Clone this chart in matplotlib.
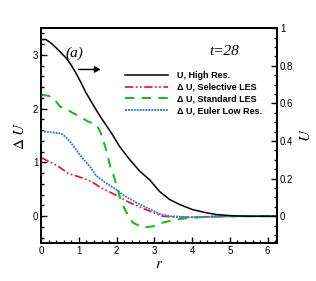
import matplotlib
matplotlib.use("Agg")
import matplotlib.pyplot as plt
from matplotlib.ticker import MultipleLocator, FuncFormatter
from matplotlib.lines import Line2D

plt.rcParams['font.family'] = 'Liberation Sans'
plt.rcParams['mathtext.fontset'] = 'stix'

# U, high resolution (right axis)
r_hi = [0, 0.13, 0.26, 0.40, 0.53, 0.66, 0.79, 0.92, 1.06, 1.19, 1.32, 1.45, 1.58,
        1.77, 1.90, 2.08, 2.35, 2.61, 2.88, 3.14, 3.40, 3.67, 4.01, 4.38, 4.64,
        5.07, 5.5, 6.25]
u_hi = [0.939, 0.939, 0.921, 0.895, 0.868, 0.842, 0.806, 0.762, 0.709, 0.656,
        0.612, 0.568, 0.526, 0.470, 0.430, 0.370, 0.300, 0.240, 0.192, 0.131,
        0.089, 0.062, 0.035, 0.018, 0.009, 0.002, 0.0, 0.0]

# delta U, selective LES
r_sel = [0, 0.18, 0.45, 0.71, 0.79, 1.06, 1.32, 1.58, 1.85, 2.03, 2.27, 2.61,
         2.96, 3.22, 3.59, 3.93, 4.5, 5.0, 6.25]
du_sel = [1.09, 1.03, 0.93, 0.80, 0.78, 0.72, 0.65, 0.53, 0.44, 0.37, 0.28,
          0.17, 0.07, 0.0, -0.02, -0.02, -0.01, 0.0, 0.0]

# delta U, standard LES
r_std = [0, 0.2, 0.35, 0.5, 0.77, 1.03, 1.25, 1.47, 1.58, 1.72, 1.85, 1.9, 2.01,
         2.08, 2.22, 2.43, 2.69, 2.96, 3.22, 3.59, 3.93, 4.46, 5.0, 6.25]
du_std = [2.26, 2.24, 2.18, 2.04, 1.95, 1.85, 1.76, 1.70, 1.55, 1.24, 0.87, 0.80,
          0.55, 0.37, 0.12, -0.12, -0.21, -0.19, -0.12, -0.06, -0.03, -0.01,
          0.0, 0.0]

# delta U, Euler low resolution
r_eul = [0, 0.45, 0.58, 0.79, 1.06, 1.32, 1.45, 1.69, 1.98, 2.16, 2.53, 2.88,
         3.14, 3.40, 3.93, 4.46, 5.0, 6.25]
du_eul = [1.58, 1.55, 1.52, 1.37, 1.11, 0.90, 0.76, 0.63, 0.50, 0.40, 0.25,
          0.13, 0.04, 0.0, -0.02, -0.01, 0.0, 0.0]

labels = ['U, High Res.', '\u0394 U, Selective LES', '\u0394 U, Standard LES',
          '\u0394 U, Euler Low Res.']
colors = ['black', '#e8141c', '#22b822', '#3a7fd4']
styles = ['-', (0, (5, 1.5, 1, 1.5, 1, 1.5)), (0, (4.5, 3.5)), (0, (1, 0.5))]
widths = [1.1, 1.2, 1.5, 1.4]

fig = plt.figure(figsize=(3.16, 2.81), dpi=100)
ax = fig.add_axes([0.130, 0.135, 0.747, 0.765])
ax2 = ax.twinx()

ax.plot(r_sel, du_sel, color=colors[1], lw=widths[1], ls=styles[1])
ax.plot(r_std, du_std, color=colors[2], lw=widths[2], ls=styles[2])
ax.plot(r_eul, du_eul, color=colors[3], lw=widths[3], ls=styles[3])
ax2.plot(r_hi, u_hi, color=colors[0], lw=widths[0])

ax.set_xlim(0, 6.25)
ax.set_ylim(-0.5, 3.5)
ax2.set_ylim(-1 / 7, 1)

ax.xaxis.set_major_locator(MultipleLocator(1))
ax.xaxis.set_minor_locator(MultipleLocator(0.2))
ax.yaxis.set_major_locator(MultipleLocator(1))
ax.yaxis.set_minor_locator(MultipleLocator(0.2))
ax2.yaxis.set_major_locator(MultipleLocator(0.2))
ax2.yaxis.set_minor_locator(MultipleLocator(0.05))
fmt = FuncFormatter(lambda v, p: '%g' % round(v, 3))
ax.xaxis.set_major_formatter(fmt)
ax.yaxis.set_major_formatter(fmt)
ax2.yaxis.set_major_formatter(fmt)

for a in (ax, ax2):
    a.tick_params(which='both', direction='in', labelsize=7, pad=2, width=1)
    a.tick_params(which='major', length=4)
    a.tick_params(which='minor', length=2)
    for s in a.spines.values():
        s.set_linewidth(1.4)
ax.tick_params(axis='y', which='both', right=False)

ax.set_xlabel('$r$', fontsize=11, labelpad=1)
ax.set_ylabel(r'$\Delta\ U$', fontsize=11, labelpad=4)
ax2.set_ylabel('$U$', fontsize=11, labelpad=4)

ax.text(0.87, 3.04, '(a)', fontsize=11, family='Liberation Serif', style='italic',
        ha='center', va='center')
ax.text(4.85, 3.06, 't=28', fontsize=11, family='Liberation Serif', style='italic',
        ha='center', va='center')
ax.annotate('', xy=(1.66, 2.73), xytext=(0.92, 2.73),
            arrowprops=dict(arrowstyle='-|>', color='black', lw=1, mutation_scale=9))

handles = [Line2D([], [], color=c, lw=w, ls=s)
           for c, w, s in zip(colors, widths, styles)]
leg = ax2.legend(handles, labels, loc='upper left', bbox_to_anchor=(0.356, 0.80),
                 frameon=False, prop={'size': 6.5, 'weight': 'bold'},
                 handlelength=4.7, handletextpad=1.0, labelspacing=0.3,
                 borderpad=0, borderaxespad=0)

fig.savefig('out.png', dpi=100)
